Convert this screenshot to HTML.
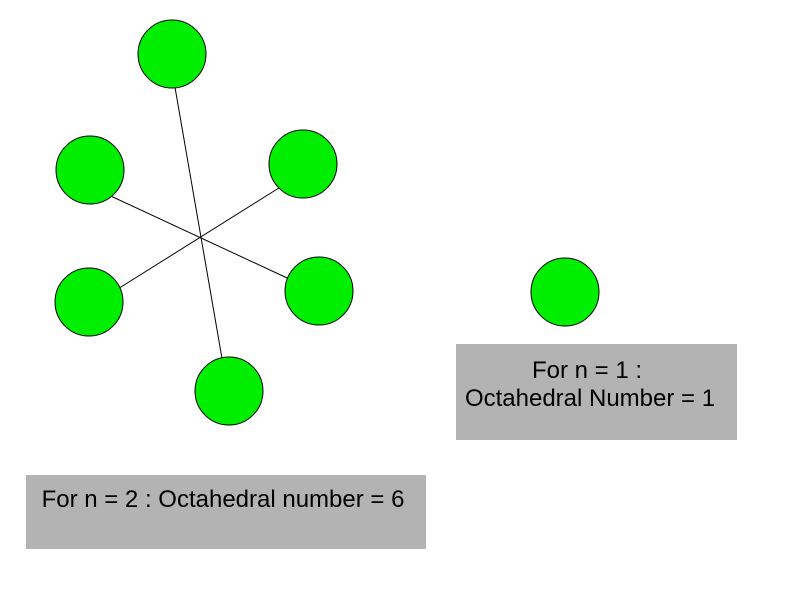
<!DOCTYPE html>
<html><head><style>body{margin:0;background:#fff}</style></head><body>
<svg width="806" height="594" xmlns="http://www.w3.org/2000/svg" font-family="Liberation Sans, sans-serif">
<rect width="806" height="594" fill="#fff"/>
<g stroke="#000" stroke-width="1">
<line x1="172" y1="70" x2="224" y2="370"/>
<line x1="100" y1="191" x2="300" y2="284"/>
<line x1="105" y1="297" x2="290" y2="181"/>
</g>
<g fill="#00ee00" stroke="#000" stroke-width="1">
<circle cx="172" cy="54" r="34"/>
<circle cx="90" cy="170" r="34"/>
<circle cx="303" cy="164" r="34"/>
<circle cx="89" cy="302" r="34"/>
<circle cx="319" cy="291" r="34"/>
<circle cx="229" cy="391" r="34"/>
<circle cx="565" cy="292" r="34"/>
</g>
<rect x="456" y="344" width="281" height="96" fill="#b3b3b3"/>
<rect x="26" y="475" width="400" height="74" fill="#b3b3b3"/>
<g font-size="24" fill="#000" text-anchor="middle">
<text x="587" y="378">For n = 1 :</text>
<text x="590" y="406">Octahedral Number = 1</text>
<text x="223" y="507">For n = 2 : Octahedral number = 6</text>
</g>
</svg>
</body></html>
